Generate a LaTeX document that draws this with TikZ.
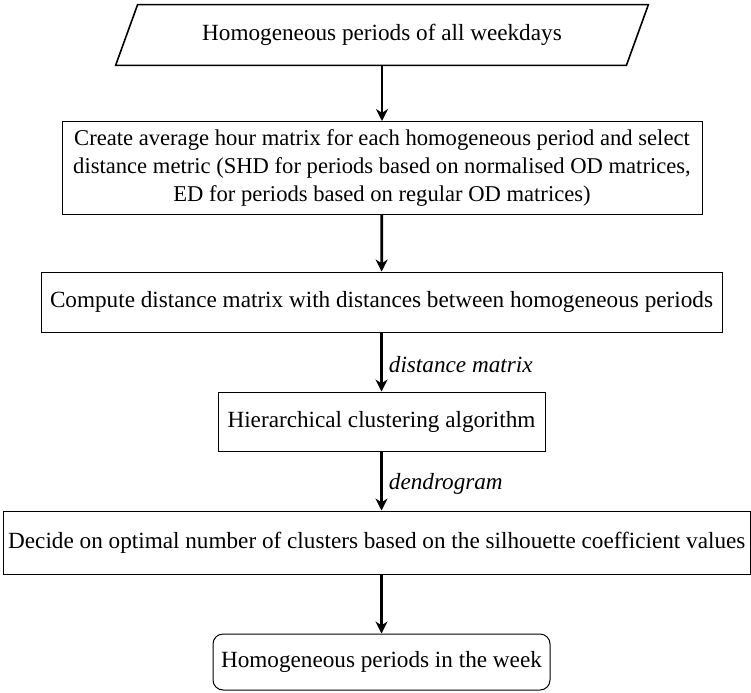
\documentclass[tikz,border=0pt]{standalone}
\usepackage{fontspec}
\setmainfont{Liberation Serif}
\usetikzlibrary{arrows.meta}
\begin{document}
\begin{tikzpicture}[x=0.5pt,y=-0.5pt,
  every node/.style={font=\fontsize{11.6}{13.9}\selectfont},
  stepbox/.style={draw, line width=0.5pt, align=center, inner sep=0pt},
  flow/.style={-{Stealth[length=6pt,width=6pt]}, line width=1.4pt},
  lbl/.style={font=\fontsize{11.6}{13.9}\selectfont\itshape, right, inner sep=3pt}]
\useasboundingbox (0,0) rectangle (751,692);

% input data (parallelogram)
\node[inner sep=0pt, minimum width=255pt, minimum height=30pt] (in) at (382,35)
  {Homogeneous periods of all weekdays};
\draw[line width=0.8pt] ([xshift=5.5pt]in.north west) -- ([xshift=5.5pt]in.north east)
  -- ([xshift=-5.5pt]in.south east) -- ([xshift=-5.5pt]in.south west) -- cycle;

% processing steps
\node[stepbox, minimum width=320pt, minimum height=46.5pt,
      font=\fontsize{11.3}{13.9}\selectfont] (avg) at (382,168)
  {Create average hour matrix for each homogeneous period and select\\
   distance metric (SHD for periods based on normalised OD matrices,\\
   ED for periods based on regular OD matrices)};
\node[stepbox, minimum width=340.5pt, minimum height=30pt] (dist) at (381.5,302)
  {Compute distance matrix with distances between homogeneous periods};
\node[stepbox, minimum width=163.5pt, minimum height=29.5pt] (hc) at (381.5,421.5)
  {Hierarchical clustering algorithm};
\node[stepbox, minimum width=373.8pt, minimum height=31.5pt] (opt) at (376.8,542.5)
  {Decide on optimal number of clusters based on the silhouette coefficient values};

% output
\node[stepbox, rounded corners=5pt, minimum width=168.5pt, minimum height=28pt] (out) at (381.5,662)
  {Homogeneous periods in the week};

% connectors
\draw[flow] (in) -- (avg);
\draw[flow] (avg) -- (dist);
\draw[flow] (dist) -- node[lbl, yshift=-1.5pt] {distance matrix} (hc);
\draw[flow] (hc) -- node[lbl, yshift=-1.5pt] {dendrogram} (hc |- opt.north);
\draw[flow] (opt.south -| out.north) -- (out);
\end{tikzpicture}
\end{document}
